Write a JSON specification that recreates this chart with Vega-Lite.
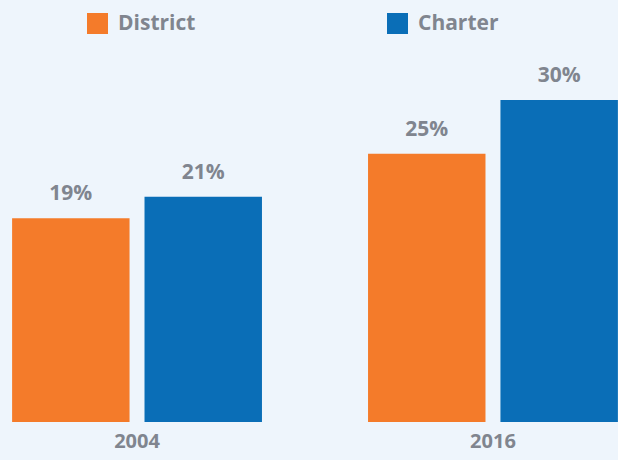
{
  "$schema": "https://vega.github.io/schema/vega-lite/v6.json",
  "width": 630,
  "height": 422,
  "autosize": {"type": "none"},
  "padding": {"top": 0, "left": 0, "right": 0, "bottom": 38},
  "background": "#eef5fc",
  "config": {"view": {"stroke": null}, "font": "Open Sans"},
  "data": {
    "values": [
      {"year": "2004", "type": "District", "value": 0.19},
      {"year": "2004", "type": "Charter", "value": 0.21},
      {"year": "2016", "type": "District", "value": 0.25},
      {"year": "2016", "type": "Charter", "value": 0.30}
    ]
  },
  "encoding": {
    "x": {
      "field": "year",
      "type": "nominal",
      "scale": {"paddingInner": 0.298, "paddingOuter": 0.034},
      "axis": {
        "title": null,
        "domain": false,
        "ticks": false,
        "labelAngle": 0,
        "labelFontSize": 20,
        "labelFontWeight": "bold",
        "labelColor": "#80858f",
        "labelPadding": 9,
        "encode": {"labels": {"update": {"dy": {"signal": "datum.value === '2016' ? 8 : 0"}, "dx": {"signal": "datum.value === '2016' ? 5 : 0"}}}}
      }
    },
    "xOffset": {
      "field": "type",
      "type": "nominal",
      "sort": ["District", "Charter"],
      "scale": {"paddingInner": 0.113, "paddingOuter": 0}
    },
    "y": {
      "field": "value",
      "type": "quantitative",
      "scale": {"domain": [0, 0.3933], "nice": false, "zero": true},
      "axis": null
    }
  },
  "layer": [
    {
      "mark": {"type": "bar"},
      "encoding": {
        "color": {
          "field": "type",
          "type": "nominal",
          "sort": ["District", "Charter"],
          "scale": {"domain": ["District", "Charter"], "range": ["#f47b2a", "#0a6eb7"]},
          "legend": {
            "title": null,
            "orient": "none",
            "legendX": 87,
            "legendY": 13,
            "direction": "horizontal",
            "columns": 2,
            "columnPadding": 191,
            "padding": 0,
            "symbolType": "square",
            "symbolSize": 441,
            "symbolStrokeWidth": 0,
            "symbolOpacity": 1,
            "labelFontSize": 21,
            "labelFontWeight": "bold",
            "labelColor": "#80858f",
            "labelOffset": 10,
            "labelLimit": 200
          }
        }
      }
    },
    {
      "mark": {"type": "text", "baseline": "alphabetic", "dy": -18, "fontSize": 21, "fontWeight": "bold", "color": "#80858f"},
      "encoding": {
        "text": {"field": "value", "type": "quantitative", "format": ".0%"},
        "detail": {"field": "type"}
      }
    }
  ]
}
